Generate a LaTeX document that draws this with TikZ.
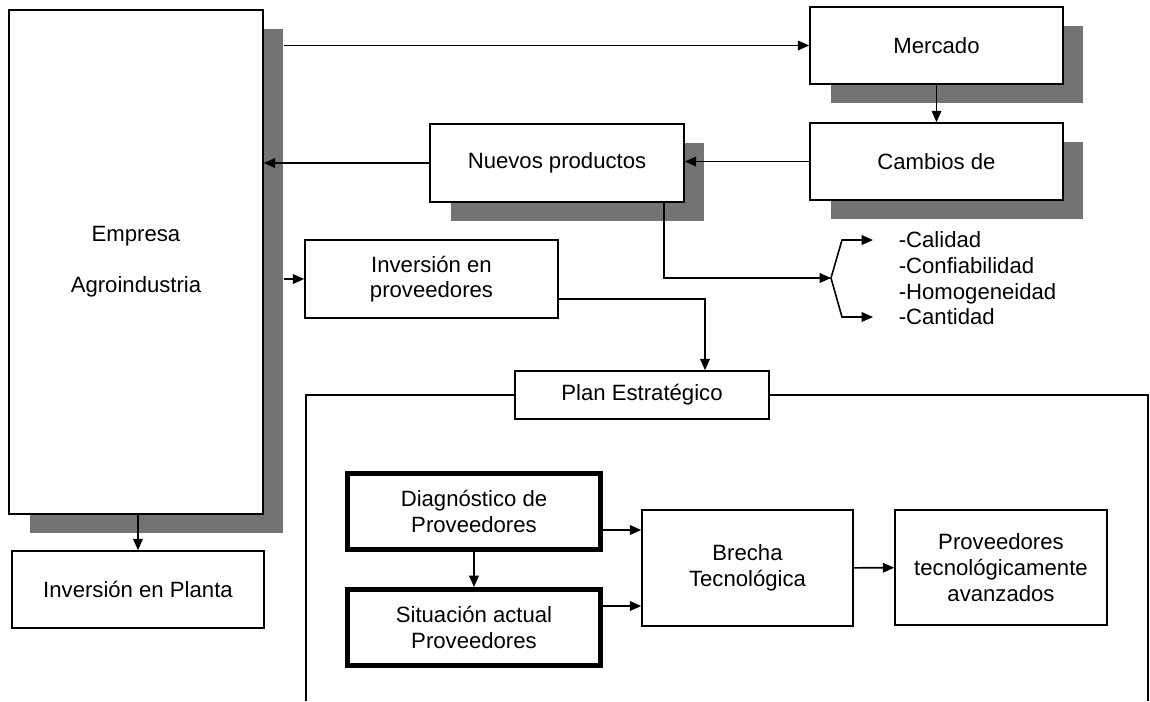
\documentclass[tikz,border=0pt]{standalone}
\usepackage{fontspec}
\setmainfont{Liberation Sans}
\usetikzlibrary{arrows.meta,shadows}

\begin{document}
\begin{tikzpicture}[x=0.02cm,y=-0.02cm,->,>={Triangle[length=6.5pt,width=5.5pt]},line width=0.9pt,
    font=\fontsize{12.6}{14.6}\selectfont,
    caja/.style={draw,fill=white,align=center,inner sep=2pt,line width=0.9pt},
    sombra/.style={drop shadow={shadow xshift=0.41cm,shadow yshift=-0.38cm,fill=black!55,opacity=1}},
    gruesa/.style={caja,line width=2.8pt},
    rasgo/.style={anchor=west,inner sep=0pt,text height=9pt,text depth=0pt}]
    \useasboundingbox (0,0) rectangle (1150,701);

    % Nodes
    \node[caja,sombra,minimum width=5.08cm,minimum height=10.08cm] (emp) at (136,262) {Empresa\\[14.6pt]Agroindustria};
    \node[caja,sombra,minimum width=5.06cm,minimum height=1.54cm] (merc) at (936.5,45.5) {Mercado};
    \node[caja,sombra,minimum width=5.06cm,minimum height=1.54cm] (cambios) at (936.5,161.5) {Cambios de};
    \node[caja,sombra,minimum width=5.08cm,minimum height=1.56cm] (nuevos) at (557,163) {Nuevos productos};
    \node[caja,minimum width=5.06cm,minimum height=1.56cm] (invp) at (431.5,279) {Inversión en\\proveedores};
    \node[caja,minimum width=5.04cm,minimum height=1.54cm] (planta) at (138,589.5) {Inversión en Planta};

    % Plan
    \node[caja,minimum width=5.08cm,minimum height=0.96cm] (plan) at (642,395) {Plan Estratégico};
    \draw[-] (plan.west) -| (306,701);
    \draw[-] (plan.east) -| (1148,701);
    \node[gruesa,minimum width=5.06cm,minimum height=1.52cm] (diag) at (474,511.5) {Diagnóstico de\\Proveedores};
    \node[gruesa,minimum width=5.06cm,minimum height=1.52cm] (sit) at (474,627.5) {Situación actual\\Proveedores};
    \node[caja,minimum width=4.22cm,minimum height=2.32cm] (brecha) at (747.5,568) {Brecha\\Tecnológica};
    \node[caja,minimum width=4.24cm,minimum height=2.30cm] (prov) at (1001,567.5) {Proveedores\\tecnológicamente\\avanzados};

    % Attributes
    \node[rasgo] (cal) at (898,240) {-Calidad};
    \node[rasgo] (conf) at (898,266) {-Confiabilidad};
    \node[rasgo] (hom) at (898,292) {-Homogeneidad};
    \node[rasgo] (cant) at (898,317) {-Cantidad};

    % Arrows
    \draw[shorten <=0.4cm] (emp.east |- merc.west) -- (merc.west);
    \draw (merc) -- (cambios);
    \draw (cambios.west) -- (cambios.west -| nuevos.east);
    \draw (nuevos.west) -- (nuevos.west -| emp.east);
    \draw[shorten <=0.4cm] (emp.east |- invp.west) -- (invp.west);
    \draw (planta.north |- emp.south) -- (planta.north);

    \coordinate (fork) at (831,278);
    \draw ([xshift=-0.42cm]nuevos.south east) |- (fork);
    \draw (fork) -- ++(11,-38) -- ([xshift=-0.5cm]cal.west);
    \draw (fork) -- ++(11,39) -- ([xshift=-0.5cm]cant.west);

    \coordinate (bend) at (705,299);
    \draw (invp.east |- bend) -- (bend) -- (bend |- plan.north);

    \draw (diag) -- (sit);
    \draw ([yshift=-0.37cm]diag.east) -- ([yshift=-0.37cm]diag.east -| brecha.west);
    \draw ([yshift=0.43cm]sit.east) -- ([yshift=0.43cm]sit.east -| brecha.west);
    \draw (brecha) -- (prov);
\end{tikzpicture}
\end{document}
